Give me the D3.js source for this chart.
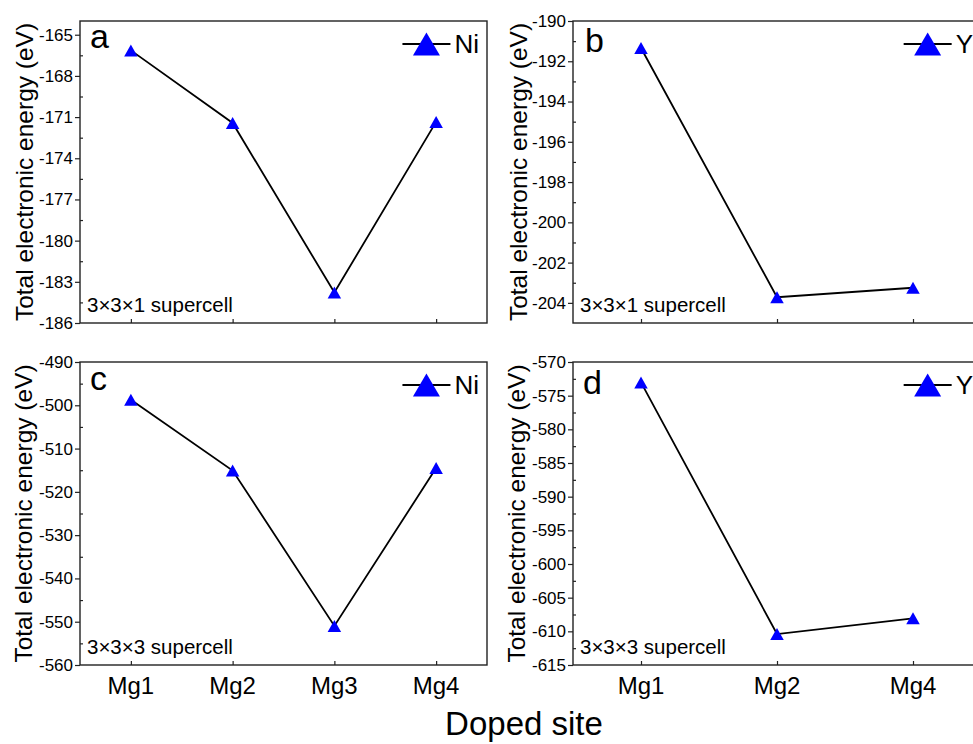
<!DOCTYPE html>
<html>
<head>
<meta charset="utf-8">
<script src="https://cdn.jsdelivr.net/npm/d3@7"></script>
<style>
  body { margin: 0; background: #fff; }
  svg { display: block; overflow: hidden; }
  text { font-family: "Liberation Sans", Arial, sans-serif; fill: #000; }
</style>
</head>
<body>
<div id="chart"></div>
<script>
// doped sites
var sitesNi = ["Mg1", "Mg2", "Mg3", "Mg4"];
var sitesY = ["Mg1", "Mg2", "Mg4"];

// total electronic energy (eV)
var ni331 = [-166.14, -171.43, -183.78, -171.35];
var y331 = [-191.34, -203.72, -203.25];
var ni333 = [-498.7, -515.07, -550.98, -514.5];
var y333 = [-573.03, -610.4, -608.07];

// y ticks for each panel
var ticksA = [-186, -183, -180, -177, -174, -171, -168, -165];
var ticksB = [-204, -202, -200, -198, -196, -194, -192, -190];
var ticksC = [-560, -550, -540, -530, -520, -510, -500, -490];
var ticksD = [-615, -610, -605, -600, -595, -590, -585, -580, -575, -570];

var width = 973;
var height = 744;

var svg = d3.select("#chart")
  .append("svg")
  .attr("width", width)
  .attr("height", height);

var triPath = function(w, h) {
  return "M0," + (-h / 2) + "L" + (w / 2) + "," + (h / 2) + "L" + (-w / 2) + "," + (h / 2) + "Z";
};

var renderPanel = function(opt) {
  var x = d3.scalePoint()
    .domain(opt.sites)
    .range([opt.left, opt.right])
    .padding(0.5);

  var y = d3.scaleLinear()
    .domain(opt.domain)
    .range([opt.bottom, opt.top]);

  var g = svg.append("g");

  // minor y ticks (inside)
  var step = opt.ticks[1] - opt.ticks[0];
  var minors = opt.ticks.map(function(t) { return t + step / 2; })
    .filter(function(t) { return t < opt.domain[1]; });
  g.append("g")
    .attr("transform", "translate(" + opt.left + ",0)")
    .call(d3.axisRight(y).tickValues(minors).tickSize(3).tickFormat(""))
    .call(function(s) { s.select(".domain").remove(); })
    .selectAll("line").attr("stroke", "#222").attr("stroke-width", 1.2);

  // major y ticks (outside)
  var yAxis = g.append("g")
    .attr("transform", "translate(" + opt.left + ",0)")
    .call(d3.axisLeft(y).tickValues(opt.ticks).tickSize(5).tickPadding(2)
      .tickFormat(function(d) { return "-" + Math.abs(d); }));
  yAxis.select(".domain").remove();
  yAxis.selectAll("line").attr("stroke", "#222").attr("stroke-width", 1.2);
  yAxis.selectAll("text")
    .style("font-family", "'Liberation Sans', Arial, sans-serif")
    .style("font-size", "17px")
    .attr("fill", "#000");

  // x ticks (inside)
  var xAxis = g.append("g")
    .attr("transform", "translate(0," + opt.bottom + ")")
    .call(d3.axisTop(x).tickSize(4).tickFormat(""));
  xAxis.select(".domain").remove();
  xAxis.selectAll("line").attr("stroke", "#222").attr("stroke-width", 1.2);

  if (opt.labels) {
    g.selectAll(".xlab")
      .data(opt.sites)
      .enter()
      .append("text")
      .attr("class", "xlab")
      .attr("x", function(d) { return x(d); })
      .attr("y", opt.bottom + 29)
      .attr("text-anchor", "middle")
      .style("font-size", "24px")
      .text(function(d) { return d; });
  }

  // frame
  g.append("rect")
    .attr("x", opt.left)
    .attr("y", opt.top)
    .attr("width", opt.right - opt.left)
    .attr("height", opt.bottom - opt.top)
    .attr("fill", "none")
    .attr("stroke", "#222")
    .attr("stroke-width", 1.4);

  // data line + markers
  var line = d3.line()
    .x(function(d, i) { return x(opt.sites[i]); })
    .y(function(d) { return y(d); });

  g.append("path")
    .datum(opt.values)
    .attr("d", line)
    .attr("fill", "none")
    .attr("stroke", "#000")
    .attr("stroke-width", 1.8);

  g.selectAll(".pt")
    .data(opt.values)
    .enter()
    .append("path")
    .attr("class", "pt")
    .attr("d", triPath(13.5, 12))
    .attr("transform", function(d, i) { return "translate(" + x(opt.sites[i]) + "," + y(d) + ")"; })
    .attr("fill", "#0000ff");

  // panel letter
  g.append("text")
    .attr("x", opt.left + opt.letterDx)
    .attr("y", opt.top + opt.letterDy)
    .style("font-size", "34px")
    .text(opt.letter);

  // supercell note
  g.append("text")
    .attr("x", opt.left + 7)
    .attr("y", opt.bottom - 11)
    .style("font-size", "20.5px")
    .text(opt.note);

  // legend
  var lgY = opt.top + 23;
  var lgText = g.append("text")
    .attr("x", opt.right - 8)
    .attr("y", lgY)
    .attr("dy", "0.36em")
    .attr("text-anchor", "end")
    .style("font-size", "26px")
    .text(opt.name);
  var tw = lgText.node().getComputedTextLength();
  var lx2 = opt.right - 8 - tw - 4;
  g.append("line")
    .attr("x1", lx2 - 48).attr("x2", lx2)
    .attr("y1", lgY).attr("y2", lgY)
    .attr("stroke", "#000").attr("stroke-width", 1.8);
  g.append("path")
    .attr("d", triPath(27, 23))
    .attr("transform", "translate(" + (lx2 - 24) + "," + lgY + ")")
    .attr("fill", "#0000ff");

  // y title
  g.append("text")
    .attr("transform", "translate(" + opt.titleX + "," + ((opt.top + opt.bottom) / 2) + ") rotate(-90)")
    .attr("text-anchor", "middle")
    .style("font-size", "24.5px")
    .text("Total electronic energy (eV)");
};

renderPanel({ sites: sitesNi, values: ni331, domain: [-186, -164], ticks: ticksA,
  left: 80, right: 487, top: 21, bottom: 323, letter: "a", letterDx: 10, letterDy: 27,
  note: "3×3×1 supercell", name: "Ni", titleX: 33, labels: false });
renderPanel({ sites: sitesY, values: y331, domain: [-205, -190], ticks: ticksB,
  left: 573, right: 981, top: 21, bottom: 323, letter: "b", letterDx: 12, letterDy: 31,
  note: "3×3×1 supercell", name: "Y", titleX: 527, labels: false });
renderPanel({ sites: sitesNi, values: ni333, domain: [-560, -490], ticks: ticksC,
  left: 80, right: 487, top: 362, bottom: 665, letter: "c", letterDx: 10, letterDy: 28,
  note: "3×3×3 supercell", name: "Ni", titleX: 32, labels: true });
renderPanel({ sites: sitesY, values: y333, domain: [-615, -570], ticks: ticksD,
  left: 573, right: 981, top: 362, bottom: 665, letter: "d", letterDx: 10, letterDy: 32,
  note: "3×3×3 supercell", name: "Y", titleX: 525, labels: true });

// shared x title
svg.append("text")
  .attr("x", 524)
  .attr("y", 735)
  .attr("text-anchor", "middle")
  .style("font-size", "33px")
  .text("Doped site");
</script>
</body>
</html>
